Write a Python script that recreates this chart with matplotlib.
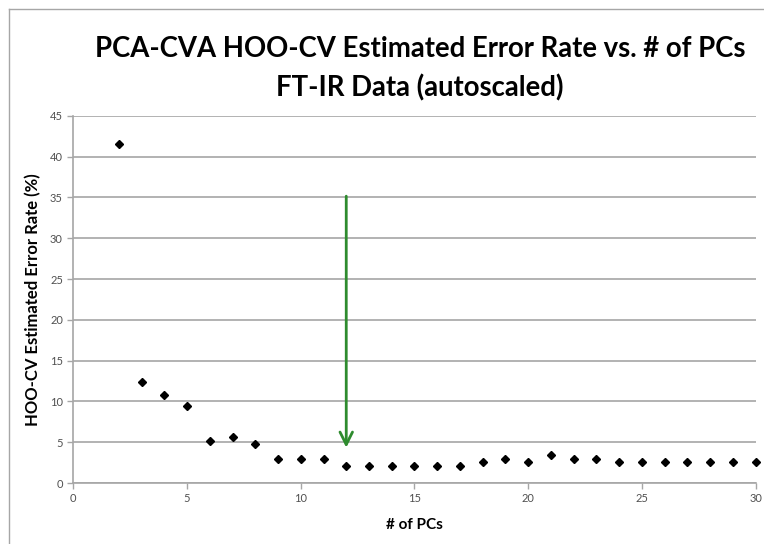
import matplotlib
matplotlib.use("Agg")
import matplotlib.pyplot as plt
from matplotlib.lines import Line2D

# data
n_pcs = [2, 3, 4, 5, 6, 7, 8, 9, 10, 11, 12, 13, 14, 15, 16, 17, 18, 19, 20,
         21, 22, 23, 24, 25, 26, 27, 28, 29, 30]
error_rate = [41.5, 12.4, 10.8, 9.4, 5.1, 5.6, 4.8, 3.0, 3.0, 3.0, 2.1, 2.1, 2.1,
              2.1, 2.1, 2.1, 2.6, 3.0, 2.6, 3.4, 3.0, 3.0, 2.6, 2.6, 2.6, 2.6,
              2.6, 2.6, 2.6]
arrow_x = 12
arrow_from = 35.5
arrow_to = 4.0

title = "PCA-CVA HOO-CV Estimated Error Rate vs. # of PCs\nFT-IR Data (autoscaled)"
xlabel = "# of PCs"
ylabel = "HOO-CV Estimated Error Rate (%)"

plt.rcParams['font.family'] = ['Lato', 'DejaVu Sans']

fig = plt.figure(figsize=(7.64, 5.44), dpi=100)
ax = fig.add_axes([0.096, 0.112, 0.893, 0.675])

grid_c = "#a6a6a6"
ax.set_xlim(0, 30)
ax.set_ylim(0, 45)
ax.set_xticks(range(0, 31, 5))
ax.set_yticks(range(0, 46, 5))
ax.yaxis.grid(True, color=grid_c, linewidth=1.2)
ax.set_axisbelow(True)
for s in ["top", "right"]:
    ax.spines[s].set_visible(False)
for s in ["left", "bottom"]:
    ax.spines[s].set_color(grid_c)
    ax.spines[s].set_linewidth(1.2)
ax.tick_params(colors=grid_c, length=4, width=1, labelsize=8,
               labelcolor="#505050")

ax.plot(n_pcs, error_rate, linestyle="none", marker="D", markersize=4.5,
        color="black", clip_on=False)

ax.annotate("", xy=(arrow_x, arrow_to), xytext=(arrow_x, arrow_from),
            arrowprops=dict(arrowstyle="->,head_length=0.5,head_width=0.25",
                            color="#2e8b2e", lw=2, mutation_scale=18))

ax.set_xlabel(xlabel, fontsize=11, fontweight="bold", labelpad=10)
ax.set_ylabel(ylabel, fontsize=12, fontweight="bold", labelpad=6)

fig.text(0.55, 0.873, title, ha="center", va="center", fontsize=19.8,
         fontweight="bold", linespacing=1.55)

# outer frame lines (top and left)
fig.add_artist(Line2D([9 / 764, 9 / 764], [0, 1 - 9 / 544],
                      color="#a6a6a6", lw=1, transform=fig.transFigure))
fig.add_artist(Line2D([9 / 764, 1], [1 - 9 / 544, 1 - 9 / 544],
                      color="#a6a6a6", lw=1, transform=fig.transFigure))

fig.savefig("out.png", dpi=100)
